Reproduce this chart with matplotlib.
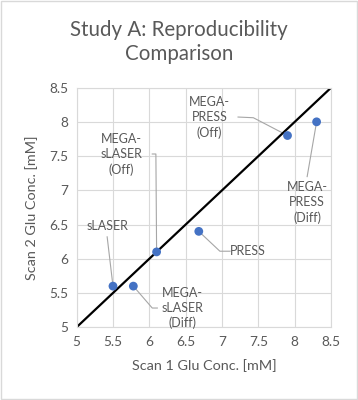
import matplotlib.pyplot as plt
from matplotlib.patches import Rectangle

# data
names = ['sLASER', 'MEGA-\nsLASER\n(Diff)', 'MEGA-\nsLASER\n(Off)', 'PRESS',
         'MEGA-\nPRESS\n(Off)', 'MEGA-\nPRESS\n(Diff)']
scan1 = [5.5, 5.78, 6.1, 6.68, 7.9, 8.3]
scan2 = [5.6, 5.6, 6.1, 6.4, 7.8, 8.0]
identity = [5, 8.5]
ticks = [5, 5.5, 6, 6.5, 7, 7.5, 8, 8.5]

# label placement: text centre, then leader path (start, elbow) in data units
label_xy = [(5.42, 6.48), (6.45, 5.28), (5.62, 7.52), (7.36, 6.11), (6.83, 8.06), (8.17, 6.82)]
leader = [
    [(5.42, 6.32)],
    [(6.11, 5.28), (6.04, 5.28)],
    [(6.04, 7.53), (6.09, 7.53)],
    [(7.11, 6.11), (6.97, 6.11)],
    [(7.22, 8.07), (7.43, 8.06)],
    [(8.17, 7.2)],
]

grey = '#595959'
plt.rcParams['font.family'] = ['Lato', 'DejaVu Sans']

fig = plt.figure(figsize=(3.58, 4.0), dpi=100)
fig.patches.append(Rectangle((0.002, 0.002), 0.995, 0.995, transform=fig.transFigure,
                             fill=False, edgecolor='#D9D9D9', linewidth=1))
ax = fig.add_axes([0.214, 0.182, 0.711, 0.599])

ax.plot(identity, identity, color='black', linewidth=1.6, zorder=2)

for i in range(len(names)):
    path = leader[i] + [(scan1[i], scan2[i])]
    xs = [p[0] for p in path]
    ys = [p[1] for p in path]
    ax.plot(xs, ys, color='#A6A6A6', linewidth=0.8, zorder=1)
    ax.text(label_xy[i][0], label_xy[i][1], names[i], ha='center', va='center',
            fontsize=9, color=grey, linespacing=1.3)

ax.scatter(scan1, scan2, s=40, color='#4472C4', zorder=3, edgecolors='none')

ax.set_xlim(5, 8.5)
ax.set_ylim(5, 8.5)
ax.set_xticks(ticks)
ax.set_yticks(ticks)
ax.set_xticklabels([f'{t:g}' for t in ticks])
ax.set_yticklabels([f'{t:g}' for t in ticks])
ax.tick_params(length=0, labelsize=9.8, colors=grey, pad=6)
ax.grid(True, color='#D9D9D9', linewidth=0.8)
ax.set_axisbelow(True)
for s in ax.spines.values():
    s.set_color('#D9D9D9')
    s.set_linewidth(0.8)

ax.set_xlabel('Scan 1 Glu Conc. [mM]', fontsize=10.4, color=grey, labelpad=8)
ax.set_ylabel('Scan 2 Glu Conc. [mM]', fontsize=10.4, color=grey, labelpad=8)
fig.text(0.5, 0.895, 'Study A: Reproducibility\nComparison', ha='center', va='center',
         fontsize=14.8, color=grey, linespacing=1.2)

fig.savefig('out.png', dpi=100)
